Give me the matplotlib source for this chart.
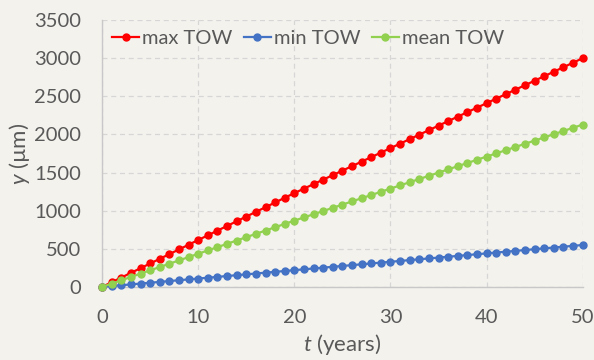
import matplotlib
matplotlib.use("Agg")
import matplotlib.pyplot as plt

plt.rcParams['font.family'] = ['Lato', 'DejaVu Sans']
plt.rcParams['mathtext.fontset'] = 'custom'
plt.rcParams['mathtext.rm'] = 'Lato'
plt.rcParams['mathtext.it'] = 'Lato:italic'

# years of exposure
years = list(range(0, 51))

# corrosion depth (um) per year
max_tow = [0, 62, 123, 185, 246, 308, 369, 431, 492, 554,
           616, 677, 739, 800, 862, 923, 985, 1046, 1108, 1170,
           1231, 1290, 1349, 1408, 1467, 1526, 1585, 1644, 1703, 1762,
           1821, 1880, 1939, 1998, 2057, 2116, 2175, 2234, 2293, 2352,
           2411, 2470, 2529, 2588, 2647, 2706, 2765, 2824, 2883, 2942,
           3001]
min_tow = [0, 11, 22, 33, 44, 55, 66, 77, 88, 99,
           110, 121, 132, 143, 154, 165, 176, 187, 198, 209,
           220, 231, 242, 253, 264, 275, 286, 297, 308, 319,
           330, 341, 352, 363, 374, 385, 396, 407, 418, 429,
           440, 451, 462, 473, 484, 495, 506, 517, 528, 539,
           550]
mean_tow = [0, 44, 87, 131, 174, 218, 261, 305, 348, 392,
            435, 479, 522, 566, 609, 653, 696, 740, 783, 827,
            870, 912, 954, 996, 1038, 1080, 1122, 1164, 1206, 1248,
            1290, 1332, 1374, 1416, 1458, 1500, 1542, 1584, 1626, 1668,
            1710, 1752, 1794, 1836, 1878, 1920, 1962, 2004, 2046, 2088,
            2130]

bg = '#f3f2ed'
txt = '#595959'

fig = plt.figure(figsize=(5.94, 3.6), dpi=100, facecolor=bg)
ax = fig.add_axes([0.172, 0.203, 0.809, 0.741], facecolor=bg)

series = [('max TOW', max_tow, '#ff0000'),
          ('min TOW', min_tow, '#4472c4'),
          ('mean TOW', mean_tow, '#92d050')]
for name, vals, col in series:
    ax.plot(years, vals, '-o', color=col, lw=1.6, ms=5, label=name, clip_on=False, zorder=3)

ax.set_xlim(0, 50)
ax.set_ylim(0, 3500)
ax.set_xticks(range(0, 51, 10))
ax.set_yticks(range(0, 3501, 500))
ax.grid(True, color='#d6d6d6', ls=(0, (4, 3)), lw=0.9)
ax.set_axisbelow(True)
for s in ['top', 'right']:
    ax.spines[s].set_visible(False)
for s in ['left', 'bottom']:
    ax.spines[s].set_color('#c8c8c8')
    ax.spines[s].set_linewidth(1.0)
ax.tick_params(length=0, labelsize=14.5, colors=txt)
ax.tick_params(axis='y', pad=15)
ax.tick_params(axis='x', pad=16)

ax.set_xlabel('$t$ (years)', fontsize=16, color=txt, labelpad=4)
ax.set_ylabel('$y$ (µm)', fontsize=16, color=txt, labelpad=2)

ax.legend(loc='upper left', ncol=3, frameon=False, fontsize=14.5, labelcolor=txt,
          handlelength=1.35, handletextpad=0.15, columnspacing=0.55,
          borderaxespad=0.1, bbox_to_anchor=(0.0, 1.0))

fig.savefig('out.png', dpi=100, facecolor=bg)
